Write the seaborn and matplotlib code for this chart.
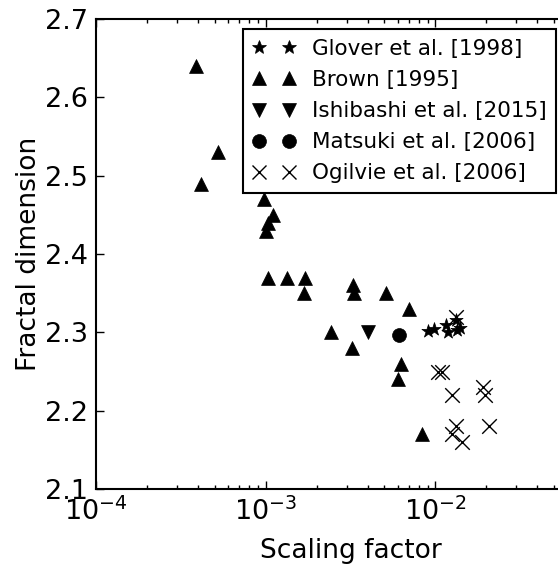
import matplotlib
matplotlib.use("Agg")
import matplotlib.pyplot as plt
from matplotlib.lines import Line2D
from matplotlib.ticker import LogLocator, FixedLocator
import seaborn as sns
import pandas as pd

# ---- data ----
glover_x = [9.0e-3, 9.8e-3, 1.16e-2, 1.18e-2, 1.32e-2, 1.35e-2, 1.40e-2]
glover_y = [2.302, 2.304, 2.309, 2.300, 2.316, 2.303, 2.305]

brown_x = [3.86e-4, 5.25e-4, 4.16e-4, 9.8e-4, 1.10e-3, 1.03e-3, 1.01e-3,
           1.03e-3, 1.33e-3, 1.71e-3, 1.69e-3, 3.25e-3, 3.33e-3, 5.12e-3,
           6.97e-3, 2.42e-3, 3.21e-3, 6.28e-3, 6.05e-3, 8.4e-3]
brown_y = [2.64, 2.53, 2.49, 2.47, 2.45, 2.44, 2.43,
           2.37, 2.37, 2.37, 2.35, 2.36, 2.35, 2.35,
           2.33, 2.30, 2.28, 2.26, 2.24, 2.17]

ishibashi_x = [3.99e-3]
ishibashi_y = [2.30]

matsuki_x = [6.07e-3]
matsuki_y = [2.297]

ogilvie_x = [1.33e-2, 1.03e-2, 1.10e-2, 1.25e-2, 1.90e-2, 1.95e-2,
             2.08e-2, 1.33e-2, 1.26e-2, 1.43e-2]
ogilvie_y = [2.32, 2.25, 2.25, 2.22, 2.23, 2.22,
             2.18, 2.18, 2.17, 2.16]

labels = ["Glover et al. [1998]", "Brown [1995]", "Ishibashi et al. [2015]",
          "Matsuki et al. [2006]", "Ogilvie et al. [2006]"]
markers = ["*", "^", "v", "o", "x"]
xlabel = "Scaling factor"
ylabel = "Fractal dimension"
yticks = [2.1, 2.2, 2.3, 2.4, 2.5, 2.6, 2.7]

series = [(glover_x, glover_y), (brown_x, brown_y), (ishibashi_x, ishibashi_y),
          (matsuki_x, matsuki_y), (ogilvie_x, ogilvie_y)]

# ---- style ----
sns.set_style("ticks")
plt.rcParams["font.family"] = ["DejaVu Sans"]
plt.rcParams["mathtext.fontset"] = "dejavusans"
plt.rcParams["axes.unicode_minus"] = False
plt.rcParams["text.color"] = "black"
plt.rcParams["axes.labelcolor"] = "black"
plt.rcParams["xtick.color"] = "black"
plt.rcParams["ytick.color"] = "black"

W, H = 558, 567
fig = plt.figure(figsize=(W / 100, H / 100), dpi=100)
# axes extends past the right border of the figure (cropped like the reference)
left, right, bottom, top = 96, 605, 489, 19
ax = fig.add_axes([left / W, 1 - bottom / H, (right - left) / W, (bottom - top) / H])

for (xs, ys), lab, mk in zip(series, labels, markers):
    df = pd.DataFrame({"x": xs, "y": ys})
    if mk == "x":
        sns.scatterplot(data=df, x="x", y="y", marker=mk, s=110, color="black",
                        linewidth=1.0, ax=ax, legend=False, zorder=3)
    else:
        sns.scatterplot(data=df, x="x", y="y", marker=mk, s=100, color="black",
                        edgecolor="black", linewidth=0.5, ax=ax, legend=False, zorder=3)

ax.set_xscale("log")
ax.set_xlim(1e-4, 1e-1)
ax.set_ylim(2.1, 2.7)
ax.yaxis.set_major_locator(FixedLocator(yticks))
ax.set_yticklabels([f"{v:.1f}" for v in yticks])
ax.xaxis.set_major_locator(FixedLocator([1e-4, 1e-3, 1e-2]))
ax.xaxis.set_minor_locator(LogLocator(base=10, subs=range(2, 10), numticks=20))

for sp in ax.spines.values():
    sp.set_visible(True)
    sp.set_linewidth(1.5)
    sp.set_color("black")

ax.tick_params(which="both", direction="in", top=True, right=True, colors="black")
ax.tick_params(which="major", length=6, width=1, labelsize=19.5, pad=6)
ax.tick_params(which="minor", length=3, width=1)
ax.tick_params(axis="y", which="minor", left=False, right=False)

ax.set_xlabel(xlabel, fontsize=19, labelpad=9, color="black")
ax.set_ylabel(ylabel, fontsize=19, labelpad=2, color="black")

handles = [Line2D([], [], linestyle="none", marker=mk, color="black",
                  markersize=10, markeredgewidth=1.0 if mk == "x" else 0.5)
           for mk in markers]
leg = ax.legend(handles, labels, numpoints=2, loc="upper right",
                bbox_to_anchor=(556 / W, 1 - 29 / H), bbox_transform=fig.transFigure,
                borderaxespad=0, fontsize=15.5, frameon=True, fancybox=False,
                handlelength=2.0, handletextpad=0.75, labelspacing=0.52,
                borderpad=0.45)
leg.get_frame().set_edgecolor("black")
leg.get_frame().set_linewidth(1.5)
leg.get_frame().set_alpha(1)
for t in leg.get_texts():
    t.set_color("black")

fig.savefig("out.png", dpi=100)
